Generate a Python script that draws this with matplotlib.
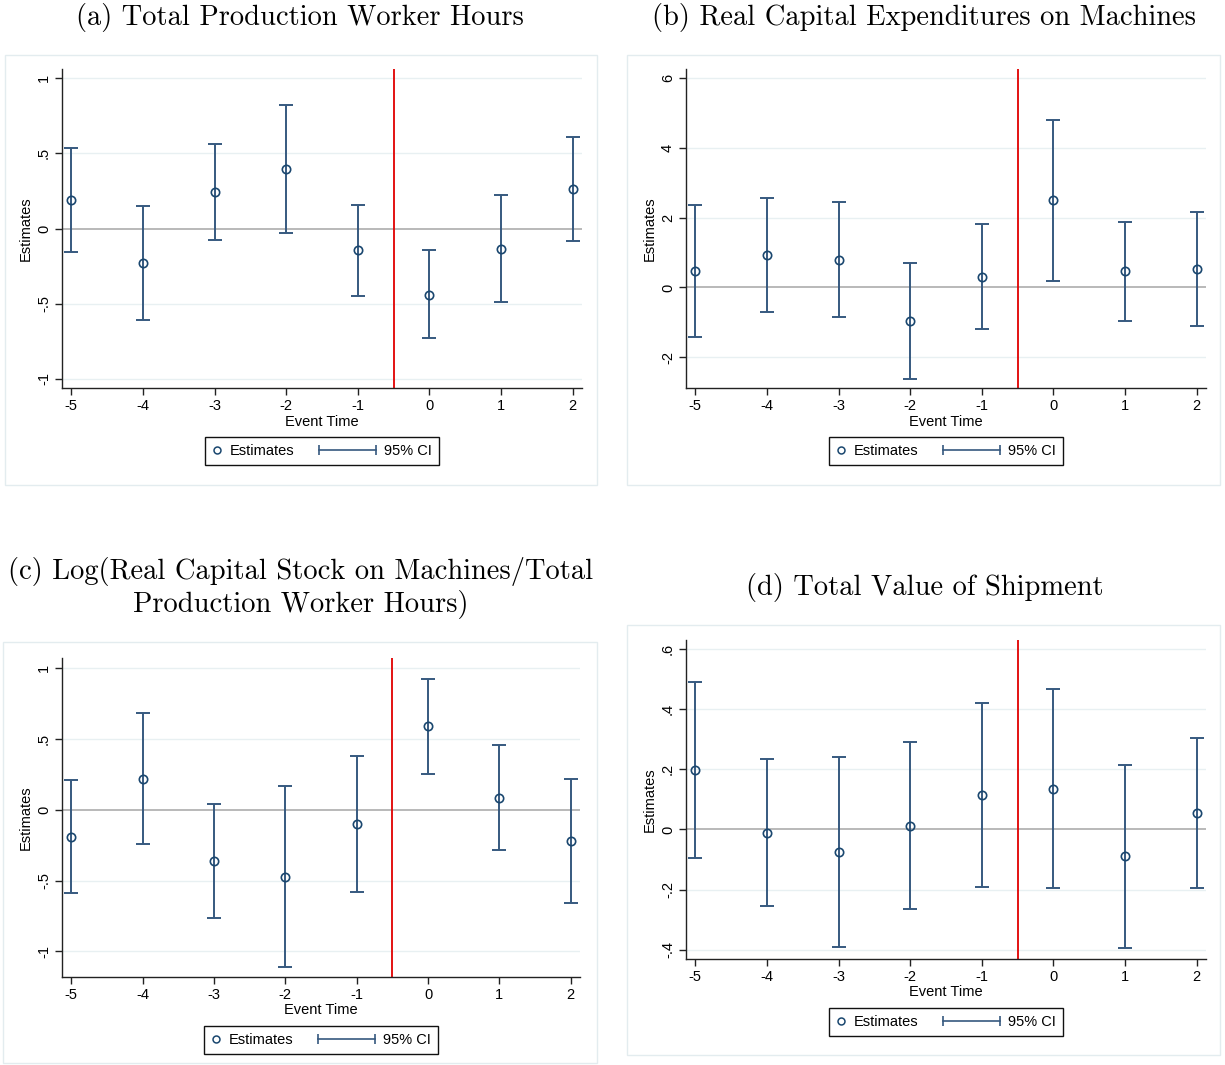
import numpy as np
import matplotlib
matplotlib.use("Agg")
import matplotlib.pyplot as plt
from matplotlib.lines import Line2D
from matplotlib.patches import Rectangle
from matplotlib.legend_handler import HandlerLine2D, HandlerBase

# event time
event_time = [-5, -4, -3, -2, -1, 0, 1, 2]

# (a) total production worker hours
est_a = [0.188, -0.231, 0.242, 0.397, -0.146, -0.439, -0.135, 0.262]
lo_a = [-0.157, -0.608, -0.078, -0.027, -0.446, -0.729, -0.488, -0.084]
hi_a = [0.537, 0.149, 0.559, 0.823, 0.155, -0.146, 0.220, 0.605]

# (b) real capital expenditures on machines
est_b = [0.458, 0.917, 0.793, -0.965, 0.296, 2.493, 0.458, 0.516]
lo_b = [-1.42, -0.716, -0.85, -2.617, -1.184, 0.2, -0.965, -1.108]
hi_b = [2.35, 2.56, 2.445, 0.688, 1.805, 4.785, 1.89, 2.149]

# (c) log(capital stock / hours)
est_c = [-0.19, 0.220, -0.363, -0.475, -0.101, 0.588, 0.084, -0.220]
lo_c = [-0.585, -0.244, -0.763, -1.112, -0.583, 0.251, -0.283, -0.656]
hi_c = [0.206, 0.684, 0.040, 0.164, 0.382, 0.925, 0.457, 0.215]

# (d) total value of shipment
est_d = [0.197, -0.011, -0.075, 0.012, 0.115, 0.136, -0.089, 0.055]
lo_d = [-0.095, -0.256, -0.390, -0.265, -0.191, -0.195, -0.393, -0.194]
hi_d = [0.489, 0.234, 0.241, 0.291, 0.421, 0.467, 0.214, 0.305]

titles = ["(a) Total Production Worker Hours",
          "(b) Real Capital Expenditures on Machines",
          "(c) Log(Real Capital Stock on Machines/Total\nProduction Worker Hours)",
          "(d) Total Value of Shipment"]

yticks_a = [-1, -0.5, 0, 0.5, 1]
ylabs_a = ["-1", "-.5", "0", ".5", "1"]
yticks_b = [-2, 0, 2, 4, 6]
ylabs_b = ["-2", "0", "2", "4", "6"]
yticks_d = [-0.4, -0.2, 0, 0.2, 0.4, 0.6]
ylabs_d = ["-.4", "-.2", "0", ".2", ".4", ".6"]

W, H = 1225, 1065
NAVY = "#1a476f"
CI = "#36597f"
RED = "#e00000"
GRID = "#e8f0f2"

plt.rcParams["font.family"] = ["Liberation Sans", "DejaVu Sans"]

fig = plt.figure(figsize=(W / 100, H / 100), dpi=100)
fig.patch.set_facecolor("white")


class CapLine(HandlerBase):
    # stata style rcap key: line with end caps, stretched to the left
    ext = 3.2

    def create_artists(self, legend, orig_handle, xdescent, ydescent,
                       width, height, fontsize, trans):
        y = height / 2 - ydescent
        x0 = -xdescent - self.ext * fontsize
        x1 = -xdescent + width
        ln = Line2D([x0, x1], [y, y], color=CI, lw=1.2)
        cp = Line2D([x0, x1], [y, y], ls="none", marker="|", ms=7,
                    mec=CI, mew=1.2)
        ln.set_transform(trans)
        cp.set_transform(trans)
        return [ln, cp]


def px(l, r, t, b):
    return [l / W, 1 - b / H, (r - l) / W, (b - t) / H]


def frame(l, r, t, b):
    fig.patches.append(Rectangle((l / W, 1 - b / H), (r - l) / W, (b - t) / H,
                                 transform=fig.transFigure, fill=False,
                                 edgecolor="#e3ecef", lw=1.0))


def panel(box, est, lo, hi, yt, yl, ylim):
    ax = fig.add_axes(px(*box))
    x = np.array(event_time)
    est = np.array(est)
    err = [est - np.array(lo), np.array(hi) - est]
    for v in yt:
        if v != 0:
            ax.axhline(v, color=GRID, lw=1.0, zorder=0)
    ax.axhline(0, color="#a6a6a6", lw=1.1, zorder=1)
    ax.axvline(-0.5, color=RED, lw=1.3, zorder=2)
    ax.errorbar(x, est, yerr=err, fmt="none", ecolor=CI, elinewidth=1.4,
                capsize=5, capthick=1.4, zorder=3)
    ax.plot(x, est, "o", ms=6, mfc="none", mec=NAVY, mew=1.2, zorder=4)
    ax.set_xlim(-5.13, 2.13)
    ax.set_ylim(*ylim)
    ax.set_xticks(event_time)
    ax.set_xticklabels([str(v) for v in event_time])
    ax.set_yticks(yt)
    ax.set_yticklabels(yl, rotation=90, va="center")
    for s in ["top", "right"]:
        ax.spines[s].set_visible(False)
    for s in ["left", "bottom"]:
        ax.spines[s].set_color("#222222")
        ax.spines[s].set_linewidth(1.0)
    ax.tick_params(direction="out", length=5, width=1.0, labelsize=10.5,
                   color="#222222", pad=3)
    ax.set_xlabel("Event Time", fontsize=10.5, labelpad=1)
    ax.set_ylabel("Estimates", fontsize=10.5, labelpad=3)

    h1 = Line2D([], [], ls="none", marker="o", ms=5, mfc="none", mec=NAVY, mew=1.1)
    h2 = Line2D([], [], color=CI)
    leg = ax.legend([h1, h2], ["Estimates", "95% CI"], ncol=2, loc="center",
                    bbox_to_anchor=(0.5, -63 / (box[3] - box[2])),
                    handler_map={h1: HandlerLine2D(numpoints=1), h2: CapLine()},
                    fancybox=False, edgecolor="#111111", fontsize=10.5,
                    handlelength=0.7, columnspacing=4.9, borderpad=0.45,
                    borderaxespad=0, handletextpad=0.55, framealpha=1)
    leg.get_frame().set_linewidth(1.0)
    return ax


frame(5, 597, 55, 485)
frame(627, 1220, 55, 485)
frame(3, 597, 642, 1063)
frame(627, 1220, 625, 1055)

panel((62, 582, 69, 388), est_a, lo_a, hi_a, yticks_a, ylabs_a, (-1.06, 1.06))
panel((686, 1206, 69, 388), est_b, lo_b, hi_b, yticks_b, ylabs_b, (-2.88, 6.26))
panel((62, 580, 658, 977), est_c, lo_c, hi_c, yticks_a, ylabs_a, (-1.18, 1.07))
panel((686, 1206, 640, 959), est_d, lo_d, hi_d, yticks_d, ylabs_d, (-0.431, 0.63))

tkw = dict(fontfamily="cmr10", fontsize=20.5, ha="center", va="center")
fig.text(300 / W, 1 - 18 / H, titles[0], **tkw)
fig.text(924 / W, 1 - 18 / H, titles[1], **tkw)
fig.text(301 / W, 1 - 588 / H, titles[2], linespacing=1.2, **tkw)
fig.text(925 / W, 1 - 587 / H, titles[3], **tkw)

fig.savefig("out.png", dpi=100, facecolor="white")
